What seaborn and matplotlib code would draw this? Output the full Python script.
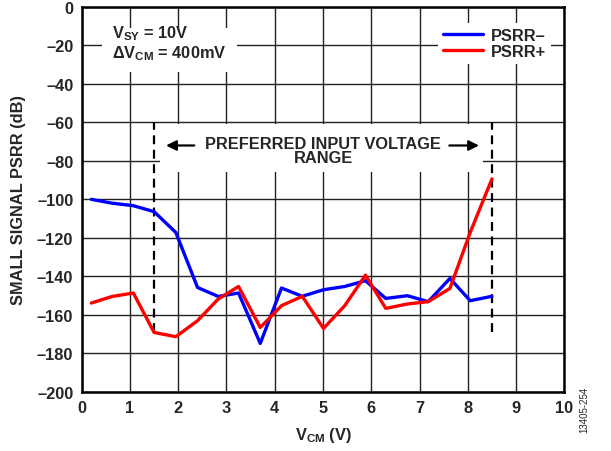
import numpy as np
import pandas as pd
import matplotlib
matplotlib.use("Agg")
import matplotlib.pyplot as plt
from matplotlib.patches import Rectangle
import seaborn as sns

# data
vcm = [0.2, 0.63, 1.07, 1.5, 1.95, 2.4, 2.83, 3.25, 3.7, 4.14, 4.57,
       5.01, 5.45, 5.88, 6.3, 6.75, 7.18, 7.63, 8.05, 8.5]
psrr_minus = [-100, -102, -103.3, -106.4, -117.2, -145.8, -150.5, -148.7, -174.9, -146.1, -150.4,
              -147, -145.3, -142.3, -151.5, -150.1, -153.2, -141.1, -152.7, -150.4]
psrr_plus = [-153.9, -150.5, -148.7, -169.2, -171.4, -163.1, -151.8, -145.3, -166.6, -155.3, -150.4,
             -167.1, -155.3, -139.4, -156.7, -154.4, -153.2, -146.3, -117.2, -89.4]
series_names = ["PSRR\u2013", "PSRR+"]
series_colors = ["#0000ff", "#ff0000"]
range_lo, range_hi = 1.5, 8.5
x_ticks = list(range(0, 11))
y_ticks = list(range(-200, 1, 20))

df = pd.concat([
    pd.DataFrame({"VCM": vcm, "PSRR": psrr_minus, "Series": series_names[0]}),
    pd.DataFrame({"VCM": vcm, "PSRR": psrr_plus, "Series": series_names[1]}),
])

sns.set_style("white")
plt.rcParams["font.family"] = ["Liberation Sans", "DejaVu Sans"]
plt.rcParams["font.weight"] = "bold"
plt.rcParams["mathtext.fontset"] = "custom"
plt.rcParams["mathtext.rm"] = "Liberation Sans:bold"
plt.rcParams["mathtext.bf"] = "Liberation Sans:bold"
plt.rcParams["mathtext.it"] = "Liberation Sans:bold"
plt.rcParams["mathtext.default"] = "rm"

fs = 11.8
fig = plt.figure(figsize=(6.11, 4.52), dpi=100)
ax = fig.add_axes([0.1337, 0.1312, 0.7899, 0.8511])

sns.lineplot(data=df, x="VCM", y="PSRR", hue="Series", hue_order=series_names,
             palette=series_colors, lw=2.4, ax=ax, zorder=4)

ax.set_xlim(0, 10)
ax.set_ylim(-200, 0)
ax.set_xticks(x_ticks)
ax.set_yticks(y_ticks)
ax.set_yticklabels([str(v).replace("-", "\u2013") for v in y_ticks])
ax.tick_params(length=0, labelsize=fs)
ax.tick_params(axis="x", pad=6)
ax.tick_params(axis="y", pad=6)
ax.grid(True, color="#222222", lw=1.0, zorder=0)
ax.set_axisbelow(True)
for s in ax.spines.values():
    s.set_linewidth(1.8)
    s.set_color("black")

ax.set_xlabel("V$_{CM}$ (V)", fontsize=fs, fontweight="bold", labelpad=7)
ax.set_ylabel("SMALL SIGNAL PSRR (dB)", fontsize=fs, fontweight="bold", labelpad=8)

# preferred range markers
ax.vlines([range_lo, range_hi], -169, -60, colors="black", linestyles=(0, (4, 2.5)), lw=1.6, zorder=3)
ax.add_patch(Rectangle((1.63, -86), 6.68, 25, facecolor="white", edgecolor="none", zorder=2))
ax.text(5.0, -74.5, "PREFERRED INPUT VOLTAGE\nRANGE", ha="center", va="center",
        fontsize=fs, fontweight="bold", linespacing=0.95, zorder=5)
ax.annotate("", xy=(1.69, -72), xytext=(2.39, -72),
            arrowprops=dict(arrowstyle="-|>", color="black", lw=1.6, mutation_scale=15), zorder=5)
ax.annotate("", xy=(8.29, -72), xytext=(7.56, -72),
            arrowprops=dict(arrowstyle="-|>", color="black", lw=1.6, mutation_scale=15), zorder=5)

# conditions box
ax.add_patch(Rectangle((0.42, -34), 2.8, 23, facecolor="white", edgecolor="none", zorder=2))
ax.text(0.63, -18.5, "V$_{SY}$ = 10V\n\u0394V$_{CM}$ = 400mV", ha="left", va="center",
        fontsize=fs, fontweight="bold", linespacing=1.05, zorder=5)

leg = ax.legend(loc="upper right", bbox_to_anchor=(0.972, 0.958), borderaxespad=0,
                frameon=True, fancybox=False, facecolor="white", edgecolor="none", framealpha=1,
                handlelength=2.4, handletextpad=0.5, labelspacing=0.05, borderpad=0.3,
                prop={"size": fs, "weight": "bold"})
leg.set_zorder(6)

fig.text(0.957, 0.093, "13405-254", rotation=90, ha="center", va="center",
         fontsize=7, fontweight="normal")

fig.savefig("out.png", dpi=100)
